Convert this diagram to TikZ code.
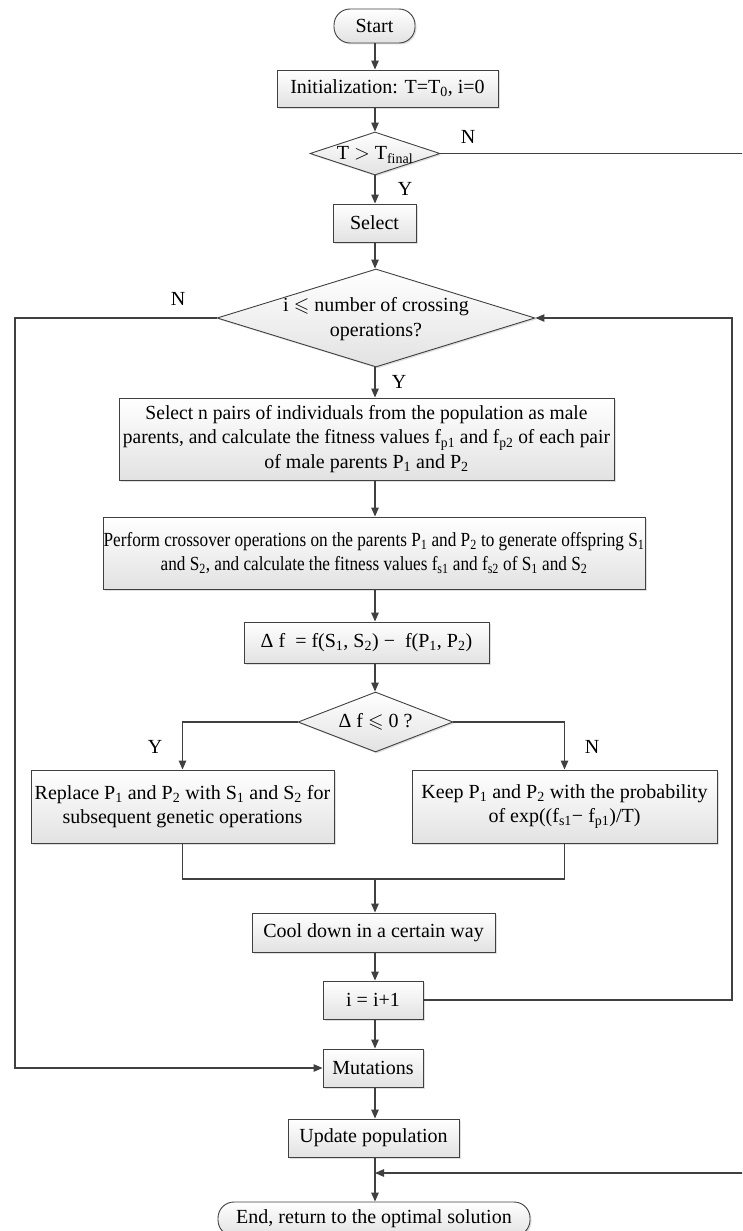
\documentclass[tikz,border=0pt]{standalone}
\usepackage{amssymb}
\usepackage{graphicx}
\usepackage{fontspec}
\setmainfont{Liberation Serif}
\usetikzlibrary{arrows.meta,shapes.geometric,shadows,calc}
\definecolor{linec}{HTML}{404040}
\definecolor{fillc}{HTML}{E2E2E2}
\newcommand{\sbs}[1]{\textsubscript{#1}}
% set one line of text to a given width, keeping its height
\newcommand{\fitline}[2]{\resizebox{#1}{\height}{#2}}
% narrow a line horizontally by a fixed factor
\newcommand{\narrowline}[1]{\scalebox{0.86}[1]{#1}}
\begin{document}
\begin{tikzpicture}[x=1pt,y=-1pt,
  every node/.style={font=\fontsize{20}{24.5}\selectfont},
  conn/.style={draw=linec, line width=1.2pt},
  arr/.style={conn, -{Triangle[length=9pt,width=7.5pt]}},
  box/.style={draw=linec, line width=0.9pt, top color=white, bottom color=fillc,
    drop shadow={shadow xshift=1.5pt, shadow yshift=-1.5pt, opacity=0.25},
    inner sep=0pt, align=center, rectangle},
  term/.style={box, rounded corners=16pt},
  dia/.style={box, diamond},
  lbl/.style={inner sep=0pt}]
\useasboundingbox (0,0) rectangle (742,1231);
\clip (0,0) rectangle (742,1231);

% reference lines for the routed connectors
\coordinate (col) at (375,0);
\coordinate (lx) at (15,0);
\coordinate (rx) at (732,0);
\coordinate (ex) at (760,0);
\coordinate (m1) at (375,879);
\coordinate (m2) at (375,1173);

% nodes
\node[term, minimum width=81pt, minimum height=34pt] (start) at (374.5,26) {Start};
\node[box, minimum width=221pt, minimum height=37pt] (init) at (387.5,88.5) {Initialization: T=T\sbs{0}, i=0};
\node[dia, minimum width=130pt, minimum height=43pt] (d1) at (375,153.5) {};
\node at (375,155) {T $>$ T\sbs{final}};
\node[box, minimum width=83pt, minimum height=38pt] (sel) at (374.5,223) {Select};
\node[dia, minimum width=318pt, minimum height=98pt] (d2) at (376,318) {};
\node[align=center] at (376,319) {i $\leqslant$ number of crossing\\operations?};
\node[box, minimum width=495pt, minimum height=82pt] (b3) at (366.5,439)
  {\fitline{442pt}{Select n pairs of individuals from the population as male}\\
   \fitline{487pt}{parents, and calculate the fitness values f\sbs{p1} and f\sbs{p2} of each pair}\\
   of male parents P\sbs{1} and P\sbs{2}};
\node[box, minimum width=542pt, minimum height=72pt] (b4) at (374,553)
  {\narrowline{Perform crossover operations on the parents P\sbs{1} and P\sbs{2} to generate offspring S\sbs{1}}\\
   \narrowline{and S\sbs{2}, and calculate the fitness values f\sbs{s1} and f\sbs{s2} of S\sbs{1} and S\sbs{2}}};
\node[box, minimum width=245pt, minimum height=41pt] (df) at (366.5,642.5)
  {Δ f~ = f(S\sbs{1}, S\sbs{2}) −~ f(P\sbs{1}, P\sbs{2})};
\node[dia, minimum width=155pt, minimum height=60pt] (d3) at (375.5,722) {};
\node at (375.5,722) {Δ f $\leqslant$ 0 ?};
\node[box, minimum width=303pt, minimum height=73pt] (lb) at (182.5,806.5)
  {Replace P\sbs{1} and P\sbs{2} with S\sbs{1} and S\sbs{2} for\\subsequent genetic operations};
\node[box, minimum width=305pt, minimum height=73pt] (rb) at (564.5,806.5)
  {Keep P\sbs{1} and P\sbs{2} with the probability\\of exp((f\sbs{s1}− f\sbs{p1})/T)};
\node[box, minimum width=243pt, minimum height=39pt] (cool) at (373.5,932.5) {Cool down in a certain way};
\node[box, minimum width=100pt, minimum height=38pt] (inc) at (373,1000) {i = i+1};
\node[box, minimum width=100pt, minimum height=38pt] (mut) at (373,1068) {Mutations};
\node[box, minimum width=171pt, minimum height=38pt] (upd) at (373.5,1138) {Update population};
\node[term, minimum width=312pt, minimum height=34pt] (end) at (374,1219) {End, return to the optimal solution};

% branch labels
\node[lbl] at (468,137) {N};
\node[lbl] at (405,189) {Y};
\node[lbl] at (178,299) {N};
\node[lbl] at (399,382) {Y};
\node[lbl] at (155,747) {Y};
\node[lbl] at (592,747) {N};

% main column
\draw[arr] (start.south -| col) -- (init.north -| col);
\draw[arr] (init.south -| col) -- (d1.north -| col);
\draw[arr] (d1.south) -- (sel.north -| col);
\draw[arr] (sel.south -| col) -- (d2.north -| col);
\draw[arr] (d2.south -| col) -- (b3.north -| col);
\draw[arr] (b3.south -| col) -- (b4.north -| col);
\draw[arr] (b4.south -| col) -- (df.north -| col);
\draw[arr] (df.south -| col) -- (d3.north -| col);
\draw[arr] (d3.west) -| (lb.north);
\draw[arr] (d3.east) -| (rb.north);
\draw[conn] (lb.south) |- (m1) -| (rb.south);
\draw[arr] (m1) -- (cool.north -| col);
\draw[arr] (cool.south -| col) -- (inc.north -| col);
\draw[arr] (inc.south -| col) -- (mut.north -| col);
\draw[arr] (mut.south -| col) -- (upd.north -| col);
\draw[arr] (upd.south -| col) -- (end.north -| col);

% loops
\draw[arr] (d2.west) -- (d2.west -| lx) |- (mut.west);
\draw[arr] (inc.east) -- (inc.east -| rx) |- (d2.east);
\draw[arr] (d1.east) -- (d1.east -| ex) |- (m2);
\end{tikzpicture}
\end{document}
